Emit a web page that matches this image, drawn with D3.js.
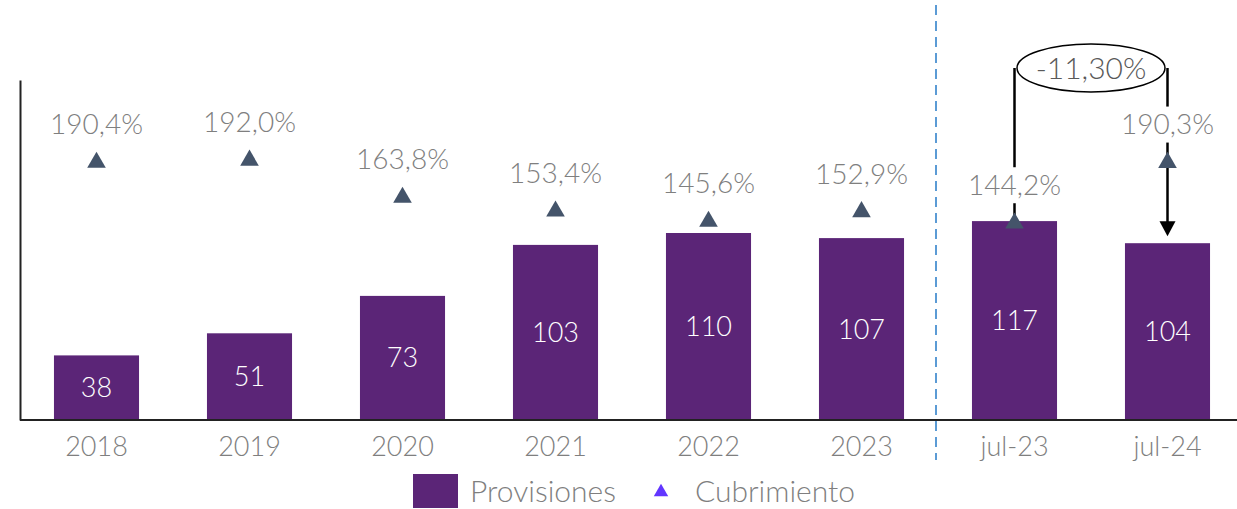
<!DOCTYPE html>
<html>
<head>
<meta charset="utf-8">
<script src="https://cdn.jsdelivr.net/npm/d3@7"></script>
<style>
  body { margin: 0; background: #fff; }
  text { font-family: "Source Sans Pro", Lato, "Open Sans", sans-serif; font-weight: 300; }
</style>
</head>
<body>
<script>
const categories = ['2018', '2019', '2020', '2021', '2022', '2023', 'jul-23', 'jul-24']
const provisiones = [38, 51, 73, 103, 110, 107, 117, 104]
const cubrimiento = [190.4, 192.0, 163.8, 153.4, 145.6, 152.9, 144.2, 190.3]
const variacion = '-11,30%'

const WIDTH = 1237
const HEIGHT = 509
const BAR = '#5b2577'
const TRI = '#44546a'
const GREY = '#7f7f7f'

const svg = d3.select('body').append('svg')
  .attr('width', WIDTH)
  .attr('height', HEIGHT)

const x = d3.scaleBand()
  .domain(categories)
  .range([20, 1244])
  .paddingInner(0.444)
  .paddingOuter(0.222)

const y = d3.scaleLinear().domain([0, 200]).range([420, 80])
const y2 = d3.scaleLinear().domain([0, 250]).range([413, 84])

const fmt = d3.formatLocale({ decimal: ',', thousands: '.', grouping: [3], currency: ['', '€'] }).format('.1f')
const cx = d => x(d) + x.bandwidth() / 2

// barras
svg.selectAll('rect.bar')
  .data(provisiones)
  .enter()
  .append('rect')
  .attr('class', 'bar')
  .attr('x', (d, i) => x(categories[i]))
  .attr('y', d => y(d))
  .attr('width', x.bandwidth())
  .attr('height', d => y(0) - y(d))
  .attr('fill', BAR)

svg.selectAll('text.val')
  .data(provisiones)
  .enter()
  .append('text')
  .attr('class', 'val')
  .attr('x', (d, i) => cx(categories[i]))
  .attr('y', d => (y(d) + y(0)) / 2)
  .attr('dy', '0.35em')
  .attr('text-anchor', 'middle')
  .attr('fill', '#fff')
  .style('font-size', '27px')
  .text(d => d)

// ejes
const xAxis = svg.append('g')
  .attr('transform', `translate(0, ${y(0)})`)
  .call(d3.axisBottom(x).tickSize(0).tickPadding(17))
xAxis.select('.domain').attr('d', `M20,0H${WIDTH}`).attr('stroke', '#222').attr('stroke-width', 2)
xAxis.selectAll('text').attr('fill', GREY).style('font-size', '27px')

const yAxis = svg.append('g')
  .attr('transform', 'translate(20, 0)')
  .call(d3.axisLeft(y).tickValues([]).tickSizeOuter(0))
yAxis.select('.domain').attr('stroke', '#222').attr('stroke-width', 2)

// separador
const sepX = x('jul-23') - x.step() * x.paddingInner() / 2 - 2
svg.append('line')
  .attr('x1', sepX).attr('x2', sepX)
  .attr('y1', 5).attr('y2', 460)
  .attr('stroke', '#5b9bd5')
  .attr('stroke-width', 2)
  .attr('stroke-dasharray', '10,6')

// anotacion
const ann = svg.append('g')
const ax1 = cx('jul-23')
const ax2 = cx('jul-24')
const ay = 68
ann.append('line')
  .attr('x1', ax1).attr('x2', ax1)
  .attr('y1', ay).attr('y2', y2(cubrimiento[6]))
  .attr('stroke', '#000').attr('stroke-width', 2.5)
ann.append('line')
  .attr('x1', ax2).attr('x2', ax2)
  .attr('y1', ay).attr('y2', y(provisiones[7]) - 20)
  .attr('stroke', '#000').attr('stroke-width', 2.5)
ann.append('path')
  .attr('d', `M${ax2 - 8},${y(provisiones[7]) - 22}L${ax2 + 8},${y(provisiones[7]) - 22}L${ax2},${y(provisiones[7]) - 7}Z`)
  .attr('fill', '#000')
ann.append('ellipse')
  .attr('cx', (ax1 + ax2) / 2).attr('cy', ay)
  .attr('rx', 74).attr('ry', 24)
  .attr('fill', '#fff')
  .attr('stroke', '#000').attr('stroke-width', 1.5)
ann.append('text')
  .attr('x', (ax1 + ax2) / 2).attr('y', ay)
  .attr('dy', '0.35em')
  .attr('text-anchor', 'middle')
  .attr('fill', '#595959')
  .style('font-size', '30px')
  .text(variacion)

// etiquetas cubrimiento
const labels = svg.selectAll('g.lab')
  .data(cubrimiento)
  .enter()
  .append('g')
  .attr('class', 'lab')
  .attr('transform', (d, i) => `translate(${cx(categories[i])}, ${y2(d) - 38})`)
labels.append('rect')
  .attr('x', -50).attr('y', -18)
  .attr('width', 100).attr('height', 36)
  .attr('fill', '#fff')
labels.append('text')
  .attr('dy', '0.35em')
  .attr('text-anchor', 'middle')
  .attr('fill', GREY)
  .style('font-size', '28px')
  .text(d => fmt(d) + '%')

// triangulos
const tri = d3.symbol().type(d3.symbolTriangle).size(150)
svg.selectAll('path.tri')
  .data(cubrimiento)
  .enter()
  .append('path')
  .attr('class', 'tri')
  .attr('d', tri)
  .attr('transform', (d, i) => `translate(${cx(categories[i])}, ${y2(d)})`)
  .attr('fill', TRI)

// leyenda
const legend = svg.append('g').attr('transform', 'translate(413, 474)')
legend.append('rect').attr('width', 45).attr('height', 34).attr('fill', BAR)
legend.append('text').attr('x', 57).attr('y', 17).attr('dy', '0.35em')
  .attr('fill', GREY).style('font-size', '30px').text('Provisiones')
legend.append('path')
  .attr('d', d3.symbol().type(d3.symbolTriangle).size(90))
  .attr('transform', 'translate(248, 18)')
  .attr('fill', '#6236ff')
legend.append('text').attr('x', 282).attr('y', 17).attr('dy', '0.35em')
  .attr('fill', GREY).style('font-size', '30px').text('Cubrimiento')
</script>
</body>
</html>
